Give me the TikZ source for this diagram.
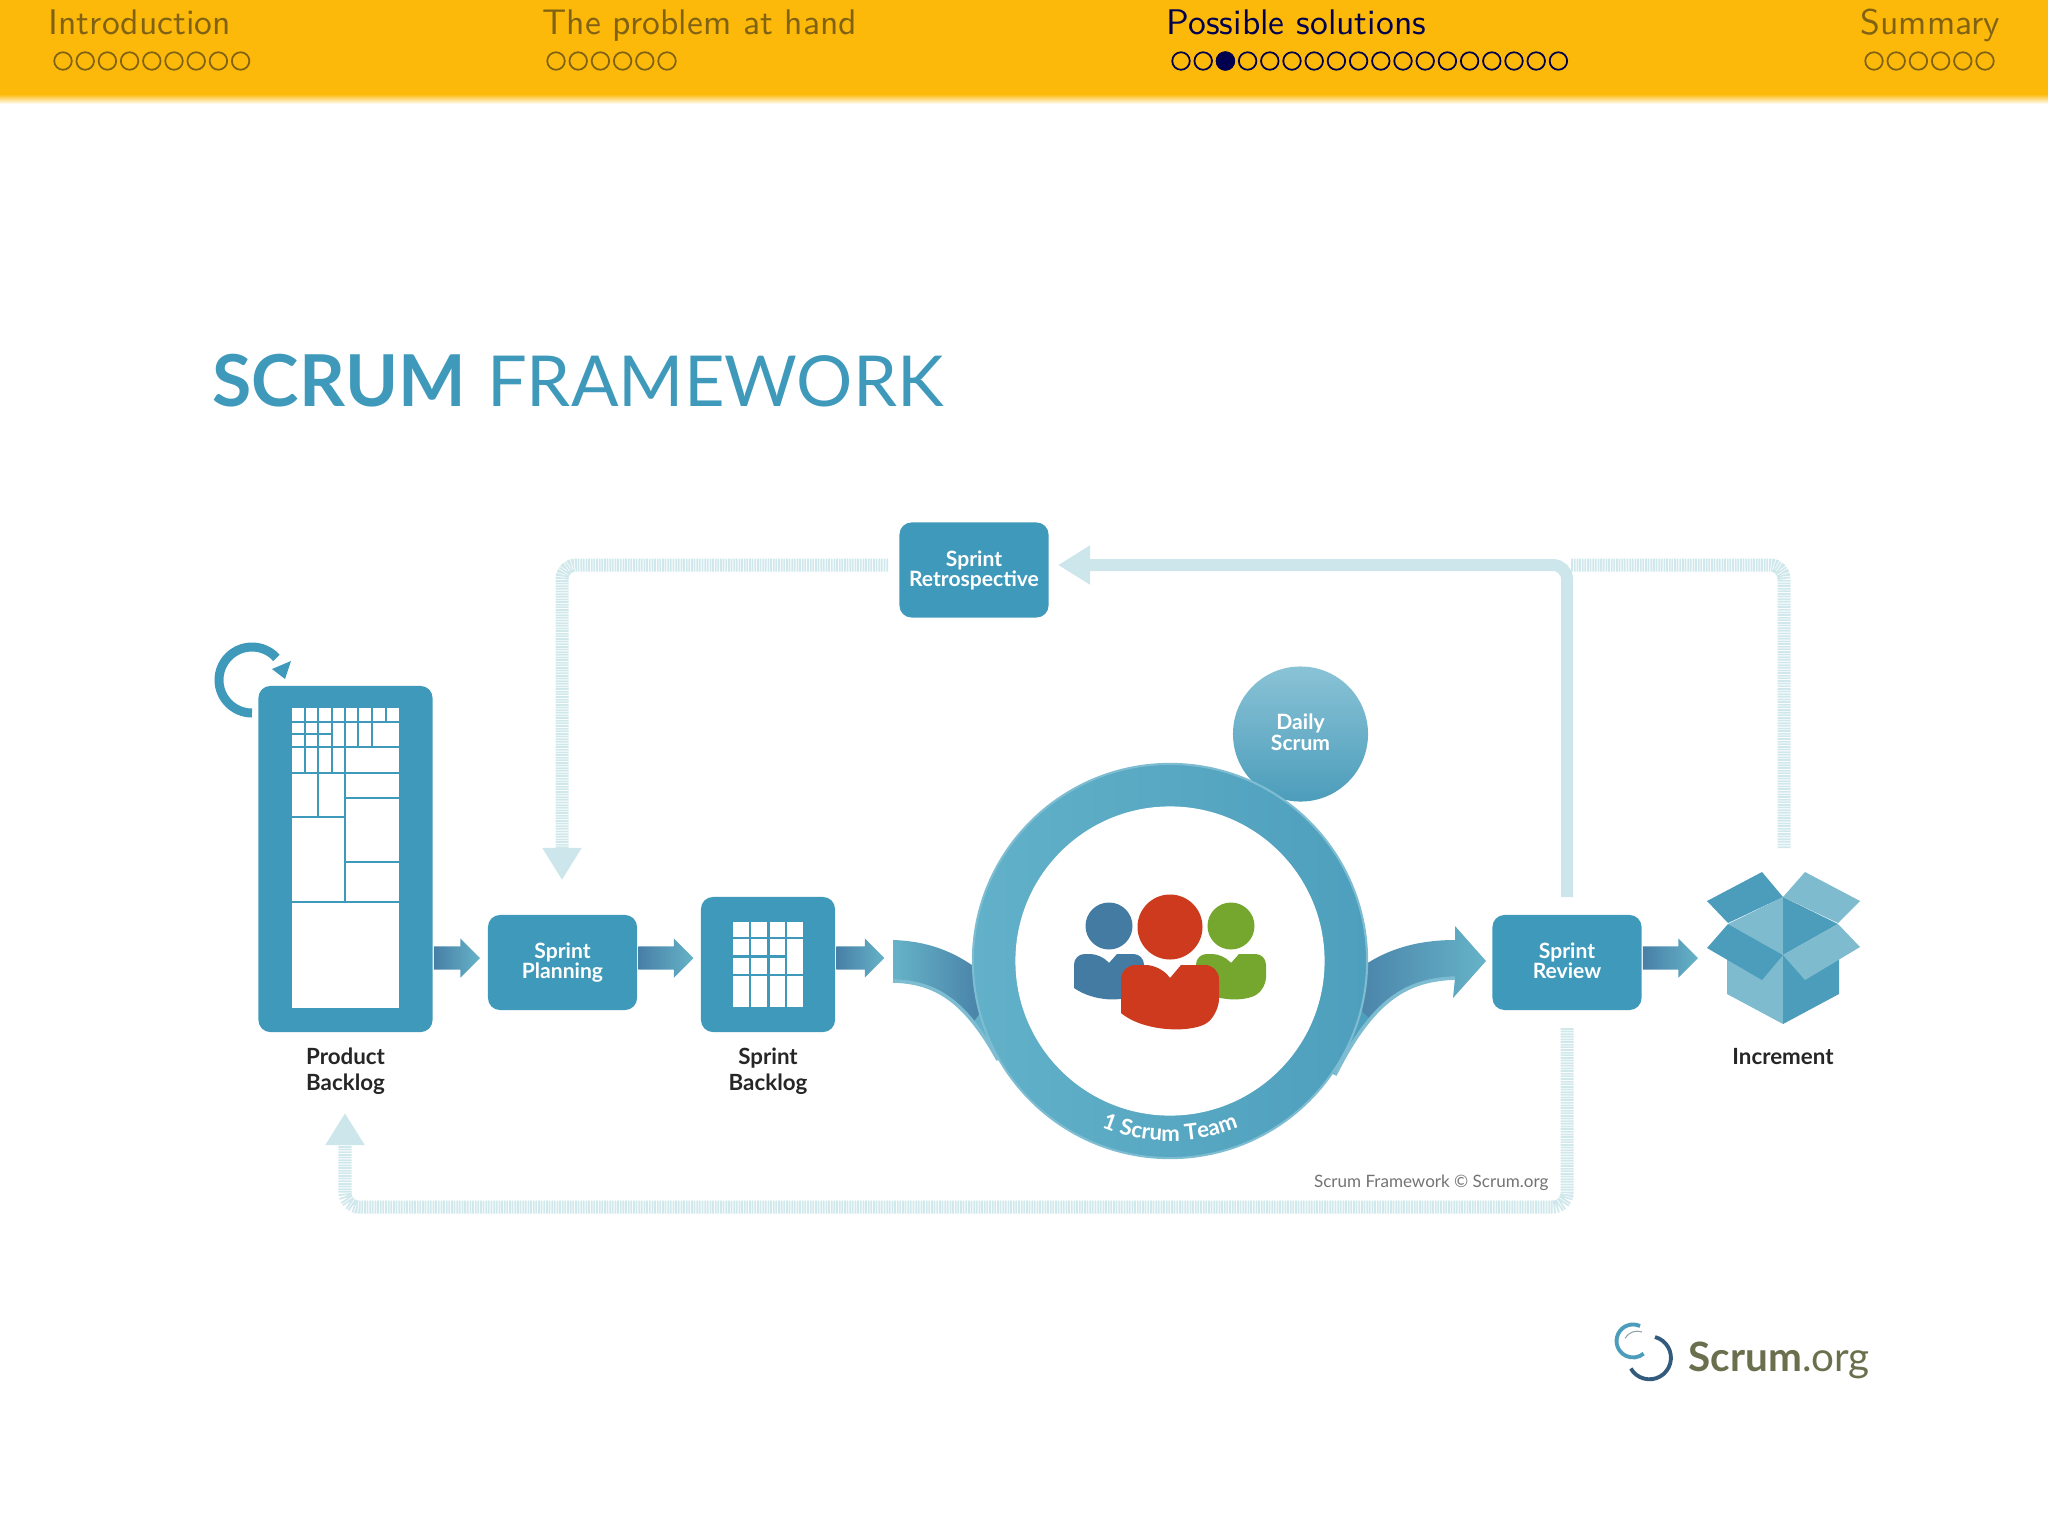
\documentclass[tikz,border=0pt]{standalone}
\usepackage{fontspec}
\setmainfont{Lato}
\usetikzlibrary{arrows.meta, positioning, calc, shapes.arrows, decorations.text}

\definecolor{navbar}{HTML}{FDB909}
\definecolor{navon}{HTML}{00004F}
\definecolor{navoff}{HTML}{806214}
\definecolor{scrumblue}{HTML}{3F99BA}
\definecolor{flowdark}{HTML}{40729E}
\definecolor{flowlight}{HTML}{66B3C8}
\definecolor{ringlight}{HTML}{62B1C9}
\definecolor{ringdark}{HTML}{4E9FBD}
\definecolor{rimcolor}{HTML}{7DBCD1}
\definecolor{feedback}{HTML}{CDE6EB}
\definecolor{hatchcolor}{HTML}{D0E8EC}
\definecolor{boxlight}{HTML}{7EBBCE}
\definecolor{boxdark}{HTML}{4C9DBB}
\definecolor{teamblue}{HTML}{437BA3}
\definecolor{teamred}{HTML}{CD3A1E}
\definecolor{teamgreen}{HTML}{75A72E}
\definecolor{logotext}{HTML}{6B6F4E}

\tikzset{
  navtext/.style={anchor=base west, inner sep=0pt, font=\sffamily\fontsize{10.12}{12}\selectfont},
  navdot/.style={circle, draw, line width=0.5pt, inner sep=0pt, minimum size=0.175cm},
  eventbox/.style={rounded corners=0.12cm, fill=scrumblue, text=white, inner sep=0pt,
    minimum width=1.49cm, minimum height=0.95cm, align=center,
    font=\fontsize{6}{5.7}\selectfont\bfseries},
  artefact/.style={align=center, inner sep=0pt, text=black!85,
    font=\fontsize{6.35}{7.3}\selectfont\bfseries},
  flowarrow/.style={single arrow, anchor=tail, inner xsep=0pt, inner ysep=0.11cm, minimum height=0.46cm,
    minimum width=0.38cm, single arrow head extend=0.08cm, single arrow head indent=0pt,
    shade, left color=flowdark!80!flowlight, middle color=flowlight!85!flowdark, right color=flowlight},
  gridthin/.style={scrumblue, line width=0.55pt},
  gridthick/.style={scrumblue, line width=0.75pt},
  hatched/.style={hatchcolor, line width=0.13cm, rounded corners=0.14cm,
    dash pattern=on 0.5pt off 0.25pt},
  solidback/.style={feedback, line width=0.12cm, rounded corners=0.14cm},
  backtip/.style={-{Triangle[length=0.32cm, width=0.37cm, fill=feedback, color=feedback]}},
}

\begin{document}
\begin{tikzpicture}[x=0.01cm, y=-0.01cm]
  \useasboundingbox (0,0) rectangle (2048,1536);

  % Navigation bar
  \fill[navbar] (0,0) rectangle (2048,94);
  \shade[top color=navbar, bottom color=white] (0,94) rectangle (2048,104);
  \node[navtext, text=navoff] (navintro) at (48,34) {Introduction};
  \node[navtext, text=navoff] (navproblem) at (542,34) {The problem at hand};
  \node[navtext, text=navon]  (navsolutions) at (1166,34) {Possible solutions};
  \node[navtext, text=navoff] (navsummary) at (1860,34) {Summary};
  \foreach \i in {0,...,8}  \node[navdot, draw=navoff] at (63+22.2*\i,61) {};
  \foreach \i in {0,...,5}  \node[navdot, draw=navoff] at (556+22.2*\i,61) {};
  \foreach \i in {0,...,17} \node[navdot, draw=navon] at (1181+22.2*\i,61) {};
  \node[navdot, draw=navon, fill=navon] (navcurrent) at (1225.4,61) {};
  \foreach \i in {0,...,5}  \node[navdot, draw=navoff] at (1874+22.2*\i,61) {};

  % Title
  \node[anchor=base west, inner sep=0pt, text=scrumblue, font=\fontsize{20}{24}\selectfont] (title)
    at (212,406) {{\fontsize{20.35}{24}\selectfont\textbf{SCRUM}}\hspace{1pt} FRAMEWORK};

  % Events and artefacts
  \node[eventbox] (retro) at (974,570) {Sprint\\Retrospective};
  \node[eventbox] (planning) at (562.5,962.5) {Sprint\\Planning};
  \node[eventbox] (review) at (1567,962.5) {Sprint\\Review\vphantom{g}};
  \node[rounded corners=0.12cm, fill=scrumblue, minimum width=1.74cm, minimum height=3.46cm, inner sep=0pt] (backlog) at (345.5,859) {};
  \node[rounded corners=0.12cm, fill=scrumblue, minimum width=1.34cm, minimum height=1.35cm, inner sep=0pt] (sprintlog) at (768,964.5) {};

  % Product backlog cells
  \fill[white] (292,708) rectangle (399,1008);
  \foreach \x in {305,318.3,331.7} \draw[gridthin] (\x,708) -- (\x,772.7);
  \foreach \x in {358.3,372.3} \draw[gridthin] (\x,708) -- (\x,747.3);
  \draw[gridthin] (385.7,708) -- (385.7,721.7);
  \draw[gridthin] (345,708) -- (345,901.7);
  \draw[gridthin] (318.3,772.7) -- (318.3,816.7);
  \foreach \y in {721.7,747.3,772.7,901.7} \draw[gridthin] (292,\y) -- (399,\y);
  \draw[gridthin] (292,734.3) -- (331.7,734.3);
  \draw[gridthin] (292,816.7) -- (345,816.7);
  \foreach \y in {797.7,861.7} \draw[gridthin] (345,\y) -- (399,\y);

  % Sprint backlog cells
  \fill[white] (733,922) rectangle (803,1007);
  \foreach \x in {750,768.3,786} \draw[gridthick] (\x,922) -- (\x,1007);
  \foreach \y in {938,975} \draw[gridthick] (733,\y) -- (803,\y);
  \draw[gridthick] (733,956.7) -- (786,956.7);

  % Loop on the product backlog
  \coordinate (loopstart) at (252,713);
  \draw[scrumblue, line width=0.09cm] (loopstart) arc (90:318:33);
  \fill[scrumblue] (285,679) -- (291,661) -- (272,669) -- cycle;

  % Labels
  \node[artefact] (backloglabel) at (345.5,1071) {Product\\Backlog};
  \node[artefact] (sprintloglabel) at (768,1071) {Sprint\\Backlog};
  \node[artefact, anchor=base] (incrementlabel) at (1783,1064) {Increment};

  % Arrows between the steps
  \node[flowarrow] (toplanning) at ([yshift=0.045cm]backlog.east |- planning) {};
  \node[flowarrow, minimum height=0.55cm] (tosprintlog) at ([yshift=0.045cm]planning.east) {};
  \node[flowarrow, minimum height=0.48cm] (toteam) at ([yshift=0.045cm]sprintlog.east |- planning) {};
  \node[flowarrow, minimum height=0.55cm] (toincrement) at ([yshift=0.045cm]review.east) {};

  % Sweeps into and out of the team circle
  \shade[left color=flowlight, right color=flowdark] (893,940) .. controls (925,941) and (955,950) .. (985,975)
    -- (1010,1050) -- (998,1060) .. controls (965,1000) and (935,982) .. (893,981) -- cycle;
  \fill[ringlight] (973.5,1022) .. controls (981.7,1032.6) and (989.75,1045) .. (998,1060) -- (1020,1040) -- (990,1000) -- cycle;
  \shade[left color=flowdark, right color=flowlight] (1355,972) .. controls (1385,948) and (1420,940) .. (1455,940)
    -- (1455,926) -- (1486,961) -- (1453,998) -- (1455,978) .. controls (1410,980) and (1375,995) .. (1335,1075)
    -- (1310,1050) -- cycle;
  \fill[ringdark] (1370,1019) .. controls (1358.6,1032.9) and (1347,1051) .. (1335,1075) -- (1310,1050) -- (1350,1000) -- cycle;
  \draw[rimcolor, line width=1pt] (1455,978) .. controls (1410,980) and (1375,995) .. (1335,1075);
  \draw[rimcolor, line width=1pt] (893,981) .. controls (935,982) and (965,1000) .. (998,1060);

  % Daily scrum and team circle
  \node[circle, minimum size=1.35cm, inner sep=0pt, shade, shading angle=45,
    top color=rimcolor!90!white, bottom color=boxdark, text=white, align=center,
    font=\fontsize{6}{6.2}\selectfont\bfseries] (daily) at (1300.5,734) {Daily\\Scrum\vphantom{g}};
  \node[circle, minimum size=3.94cm, inner sep=0pt, draw=rimcolor, line width=0.6pt, shade, shading angle=110,
    left color=ringlight, right color=ringdark] (team) at (1170,961) {};
  \node[circle, minimum size=3.09cm, inner sep=0pt, fill=white] (teaminner) at (team.center) {};
  \path[decorate, decoration={text along path, text align=center,
    text={|\fontsize{6.3}{8}\selectfont\bfseries\color{white}|1 Scrum Team}}]
    ($(team.center)+(122:180)$) arc (122:58:180);

  % Team figures
  \foreach \x/\c in {1109/teamblue, 1231/teamgreen} {
    \fill[\c] (\x,926) circle (23.5);
    \fill[\c] (\x-35,988) {[rounded corners=3pt] -- (\x-35,954) -- (\x-8,954)} -- (\x,963) -- (\x+8,954)
      {[rounded corners=3pt] -- (\x+35,954) -- (\x+35,988)} .. controls (\x+15,1002) and (\x-15,1002) .. cycle;
  }
  \fill[teamred] (1170,927) circle (32.5);
  \fill[teamred] (1121,1013) {[rounded corners=4pt] -- (1121,965) -- (1160,965)} -- (1170,978) -- (1181,965)
    {[rounded corners=4pt] -- (1219,965) -- (1219,1013)} .. controls (1195,1033) and (1145,1033) .. cycle;

  % Increment box
  \fill[boxlight] (1727,957) -- (1727,994) -- (1783,1024) -- (1783,955) -- cycle;
  \fill[boxdark]  (1783,955) -- (1783,1024) -- (1839,994) -- (1839,957) -- cycle;
  \fill[boxlight] (1783,897) -- (1728,924) -- (1783,955) -- cycle;
  \fill[boxdark]  (1783,897) -- (1838,924) -- (1783,955) -- cycle;
  \fill[boxdark]  (1707,901) -- (1762,872) -- (1783,897) -- (1728,923) -- cycle;
  \fill[boxlight] (1805,872) -- (1860,901) -- (1838,923) -- (1783,897) -- cycle;
  \fill[boxdark]  (1728,924) -- (1783,955) -- (1762,980) -- (1707,948) -- cycle;
  \fill[boxlight] (1838,924) -- (1860,947) -- (1805,980) -- (1783,955) -- cycle;

  % Feedback lines
  \coordinate (reviewtop) at (1567,897);
  \coordinate (retrotip) at (1058,565);
  \coordinate (incrementtop) at (1784,848);
  \coordinate (joinright) at (1571,565);
  \coordinate (retroleft) at (888,565);
  \coordinate (planningtip) at (562,880);
  \coordinate (reviewbottom) at (1567,1028);
  \coordinate (backlogtip) at (345,1113);
  \draw[hatched] (incrementtop) |- (joinright);
  \draw[hatched, backtip] (retroleft) -| (planningtip);
  \draw[hatched, backtip] (reviewbottom) -- (1567,1207) -- (345,1207) -- (backlogtip);
  \draw[solidback, backtip] (reviewtop) |- (retrotip);

  % Credit and logo
  \node[anchor=base east, inner sep=0pt, text=black!55, font=\fontsize{4.85}{7}\selectfont] (credit) at (1549,1187) {Scrum Framework © Scrum.org};
  \draw[hatchcolor!70!black, line width=0.3pt] (1642,1332) arc (-70:-150:14);
  \draw[boxdark, line width=1.1pt] (1640,1326) arc (-65:-310:16.5);
  \draw[flowdark!80!black, line width=1.1pt] (1655,1337) arc (-75:150:21.5);
  \node[anchor=base west, inner sep=0pt, text=logotext, font=\fontsize{11.5}{13}\selectfont] (logo) at (1688,1371) {\textbf{Scrum}.org};
\end{tikzpicture}
\end{document}
